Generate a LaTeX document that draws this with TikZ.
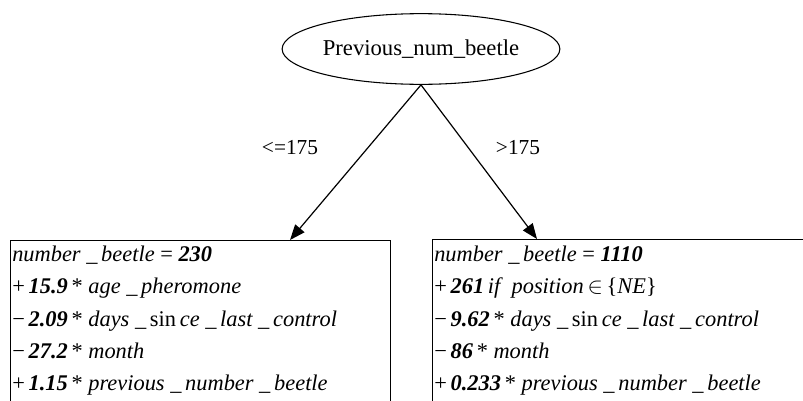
\documentclass[tikz,border=0pt]{standalone}
\usepackage{fontspec}
\setmainfont{Liberation Serif}
\usetikzlibrary{shapes.geometric,arrows.meta}
\newcommand{\bi}[1]{{\bfseries\itshape #1}}
\newcommand{\ul}{\ \_\,}
\begin{document}
\begin{tikzpicture}[x=0.75pt,y=-0.75pt,
  every node/.style={font=\fontsize{16}{19}\selectfont, inner sep=0pt},
  rootnode/.style={ellipse, draw, line width=0.8pt, minimum width=197pt, minimum height=53pt, font=\fontsize{17}{20}\selectfont},
  leafbox/.style={draw, line width=0.8pt, anchor=north west, minimum height=150pt},
  eqline/.style={anchor=base west, font=\fontsize{16.8}{19}\selectfont},
  edgelabel/.style={font=\fontsize{16}{19}\selectfont},
  branch/.style={line width=0.9pt, -{Triangle[length=11.5pt,width=9pt]}}]
\useasboundingbox (0,0) rectangle (803,400);
\clip (0,0) rectangle (803,400);
\fill[white] (0,0) rectangle (803,400);

\node[rootnode] (root) at (421,49) {Previous\_num\_beetle};

\node[leafbox, minimum width=285pt] (lbox) at (10,240) {};
\node[leafbox, minimum width=300pt] (rbox) at (432,239) {};

\coordinate (lt) at (290,240);
\coordinate (rt) at (537,239);
\draw[branch] (root.south) -- (lt);
\draw[branch] (root.south) -- (rt);

\node[edgelabel] (l1) at (290,148) {<=175};
\node[edgelabel] (l2) at (518,148) {>175};

% left equations
\node[eqline] (a1) at (12,261) {\itshape number\ul beetle \upshape= \bi{230}};
\node[eqline] (a2) at (12,293) {+\,\bi{15.9}\,* \itshape age\ul pheromone};
\node[eqline] (a3) at (12,326) {−\,\bi{2.09}\,* \itshape days\ul\upshape sin\,\itshape ce\ul last\ul control};
\node[eqline] (a4) at (12,358) {−\,\bi{27.2}\,* \itshape month};
\node[eqline] (a5) at (12,390) {+\,\bi{1.15}\,* \itshape previous\ul number\ul beetle};

% right equations
\node[eqline] (b1) at (434,261) {\itshape number\ul beetle \upshape= \bi{1110}};
\node[eqline] (b2) at (434,293) {+\,\bi{261}\,\itshape if\ \ position\,$\in$\,\upshape\{\itshape NE\upshape\}};
\node[eqline] (b3) at (434,326) {−\,\bi{9.62}\,* \itshape days\ul\upshape sin\,\itshape ce\ul last\ul control};
\node[eqline] (b4) at (434,358) {−\,\bi{86}\,* \itshape month};
\node[eqline] (b5) at (434,390) {+\,\bi{0.233}\,* \itshape previous\ul number\ul beetle};
\end{tikzpicture}
\end{document}
